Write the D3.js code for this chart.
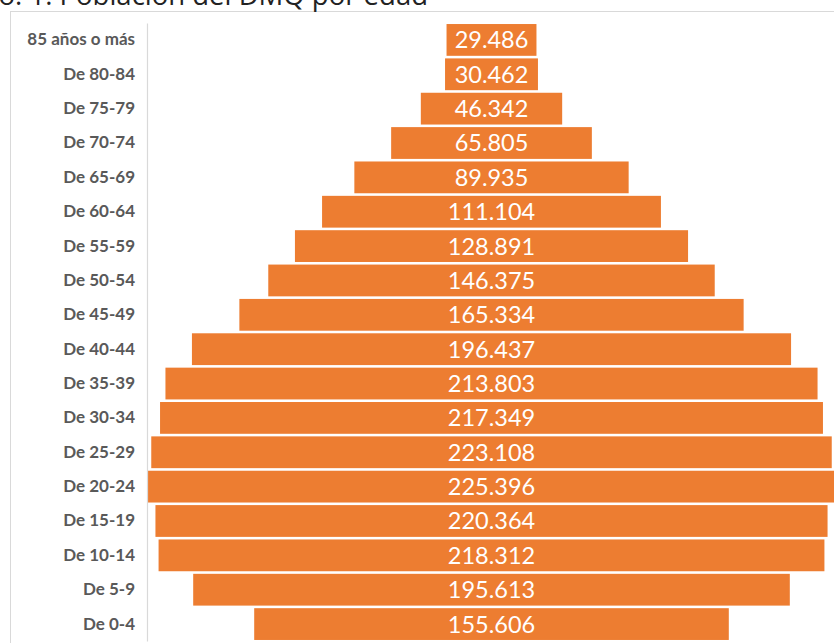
<!DOCTYPE html>
<html>
<head>
<meta charset="utf-8">
<script src="https://cdn.jsdelivr.net/npm/d3@7"></script>
<style>
  html, body { margin: 0; padding: 0; background: #fff; overflow: hidden; }
  svg { display: block; }
</style>
</head>
<body>
<svg id="chart" width="834" height="643"></svg>
<script>
const titleText = "Gráfico No. 1. Población del DMQ por edad";
const categories = ["85 años o más", "De 80-84", "De 75-79", "De 70-74", "De 65-69", "De 60-64",
  "De 55-59", "De 50-54", "De 45-49", "De 40-44", "De 35-39", "De 30-34", "De 25-29",
  "De 20-24", "De 15-19", "De 10-14", "De 5-9", "De 0-4"];
const population = [29486, 30462, 46342, 65805, 89935, 111104, 128891, 146375, 165334,
  196437, 213803, 217349, 223108, 225396, 220364, 218312, 195613, 155606];

const svg = d3.select("#chart");

const locale = d3.formatLocale({decimal: ",", thousands: ".", grouping: [3], currency: ["$", ""]});
const fmt = locale.format(",d");

// frame
svg.append("rect")
  .attr("x", 10.5).attr("y", 11.5)
  .attr("width", 900).attr("height", 700)
  .attr("fill", "none").attr("stroke", "#d9d9d9").attr("stroke-width", 1);

// title (cropped at top in reference)
svg.append("text")
  .attr("x", 428).attr("y", 5)
  .attr("text-anchor", "end")
  .attr("font-family", "'Open Sans', 'Noto Sans', sans-serif")
  .attr("font-size", 27.5)
  .attr("fill", "#222")
  .text(titleText);

const half = 115000;
const center = 491.5;
const pxPerUnit = 3.05 / 1000;
const x = d3.scaleLinear()
  .domain([-half, half])
  .range([center - half * pxPerUnit, center + half * pxPerUnit]);

const y = d3.scaleBand()
  .domain(categories)
  .range([23, 641])
  .paddingInner(0.075)
  .paddingOuter(0.03);

const rows = categories.map((c, i) => ({c, v: population[i]}));

// bars
svg.append("g").selectAll("rect")
  .data(rows)
  .join("rect")
  .attr("x", d => x(-d.v / 2))
  .attr("width", d => x(d.v / 2) - x(-d.v / 2))
  .attr("y", d => y(d.c))
  .attr("height", y.bandwidth())
  .attr("fill", "#ED7D31");

// value labels
svg.append("g").selectAll("text")
  .data(rows)
  .join("text")
  .attr("x", x(0))
  .attr("y", d => y(d.c) + y.bandwidth() / 2)
  .attr("dy", "0.36em")
  .attr("text-anchor", "middle")
  .attr("font-family", "Lato, 'Open Sans', sans-serif")
  .attr("font-size", 23.5)
  .attr("fill", "#ffffff")
  .text(d => fmt(d.v));

// axis
const axis = svg.append("g")
  .attr("transform", "translate(147,0)")
  .call(d3.axisLeft(y).tickSize(0).tickPadding(12));
axis.select(".domain").attr("stroke", "#d9d9d9").attr("stroke-width", 1.2);
axis.selectAll("text")
  .attr("font-family", "Lato, 'Open Sans', sans-serif")
  .attr("font-weight", "bold")
  .attr("font-size", 17)
  .attr("fill", "#595959");
</script>
</body>
</html>
